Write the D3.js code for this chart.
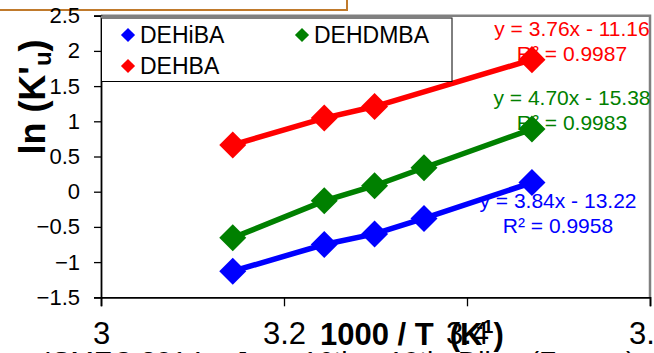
<!DOCTYPE html>
<html>
<head>
<meta charset="utf-8">
<script src="https://cdn.jsdelivr.net/npm/d3@7"></script>
<style>
  body { margin: 0; background: #fff; overflow: hidden; }
  svg { display: block; font-family: "Liberation Sans", Arial, sans-serif; }
</style>
</head>
<body>
<svg id="chart" width="654" height="353"></svg>
<script>
const xVals = [3.144, 3.244, 3.299, 3.353, 3.471];
const dehiba = [-1.13, -0.75, -0.6, -0.38, 0.13];
const dehdmba = [-0.655, -0.13, 0.085, 0.34, 0.89];
const dehba = [0.665, 1.046, 1.21, null, 1.876];
const xTicks = [3, 3.2, 3.4, 3.6];
const yTicks = [-1.5, -1, -0.5, 0, 0.5, 1, 1.5, 2, 2.5];

const series = [
  { name: "DEHiBA", values: dehiba, color: "#0000ff", eq: "y = 3.84x - 13.22", r2: "R² = 0.9958" },
  { name: "DEHDMBA", values: dehdmba, color: "#008000", eq: "y = 4.70x - 15.38", r2: "R² = 0.9983" },
  { name: "DEHBA", values: dehba, color: "#ff0000", eq: "y = 3.76x - 11.16", r2: "R² = 0.9987" }
];

const svg = d3.select("#chart");
const x = d3.scaleLinear().domain([3, 3.6]).range([101, 650]);
const y = d3.scaleLinear().domain([-1.5, 2.5]).range([297.3, 15.7]);

// box left over from the slide above the chart
svg.append("rect")
  .attr("x", -5).attr("y", -5).attr("width", 352).attr("height", 15)
  .attr("fill", "none").attr("stroke", "#c07a2c").attr("stroke-width", 2);

// plot frame, top and right in grey
svg.append("path")
  .attr("d", `M${x(3)},${y(2.5)}H${x(3.6)}V${y(-1.5)}`)
  .attr("fill", "none").attr("stroke", "#808080").attr("stroke-width", 2.5);

// axes
const yAxis = svg.append("g")
  .attr("transform", `translate(${x(3)},0)`)
  .call(d3.axisLeft(y).tickValues(yTicks).tickSize(7).tickPadding(14).tickFormat(d3.format("")));
const xAxis = svg.append("g")
  .attr("transform", `translate(0,${y(-1.5)})`)
  .call(d3.axisBottom(x).tickValues(xTicks).tickSize(9).tickPadding(16).tickFormat(d3.format("")));
[yAxis, xAxis].forEach(a => {
  a.select(".domain").attr("stroke", "#000").attr("stroke-width", 1.8);
  a.selectAll(".tick line").attr("stroke", "#000").attr("stroke-width", 1.3);
  a.selectAll("text").attr("fill", "#000").attr("font-family", "Liberation Sans, Arial, sans-serif");
});
yAxis.selectAll("text").attr("font-size", 22);
xAxis.selectAll("text").attr("font-size", 31).attr("dy", "0.71em");

// trendline labels (drawn under the series)
const eqPos = { DEHBA: [572, 36], DEHDMBA: [572, 105], DEHiBA: [558, 208] };
series.forEach(s => {
  const [cx, by] = eqPos[s.name];
  const t = svg.append("text")
    .attr("text-anchor", "middle")
    .attr("font-size", 21)
    .attr("fill", s.color);
  t.append("tspan").attr("x", cx).attr("y", by).text(s.eq);
  t.append("tspan").attr("x", cx).attr("y", by + 25).text(s.r2);
});

// series
const line = d3.line()
  .x(d => x(d.x)).y(d => y(d.v));
const marker = d3.symbol(d3.symbolSquare, 365);

series.forEach(s => {
  const pts = xVals.map((xv, i) => ({ x: xv, v: s.values[i] })).filter(d => d.v !== null);
  svg.append("path")
    .datum(pts)
    .attr("d", line)
    .attr("fill", "none")
    .attr("stroke", s.color)
    .attr("stroke-width", 5.5);
  svg.selectAll(null)
    .data(pts)
    .enter()
    .append("path")
    .attr("d", marker)
    .attr("transform", d => `translate(${x(d.x)},${y(d.v)}) rotate(45)`)
    .attr("fill", s.color);
});

// legend
const legend = svg.append("g");
legend.append("rect")
  .attr("x", 101.5).attr("y", 18).attr("width", 350.5).attr("height", 63.5)
  .attr("fill", "#fff").attr("stroke", "#000").attr("stroke-width", 1);
legend.append("line")
  .attr("x1", 101).attr("x2", 452).attr("y1", 17).attr("y2", 17)
  .attr("stroke", "#808080").attr("stroke-width", 2.5);
const legendPos = { DEHiBA: [128, 35], DEHDMBA: [302, 35], DEHBA: [128, 66] };
const legendMarker = d3.symbol(d3.symbolSquare, 100);
series.forEach(s => {
  const [lx, ly] = legendPos[s.name];
  legend.append("path")
    .attr("d", legendMarker)
    .attr("transform", `translate(${lx},${ly}) rotate(45)`)
    .attr("fill", s.color);
  legend.append("text")
    .attr("x", lx + 12).attr("y", ly + 8)
    .attr("font-size", 23)
    .attr("fill", "#000")
    .text(s.name);
});

// axis titles
const xTitle = svg.append("text")
  .attr("x", 320).attr("y", 345)
  .attr("font-size", 31).attr("font-weight", "bold").attr("fill", "#000");
xTitle.append("tspan").text("1000 / T");
xTitle.append("tspan").attr("dx", 16).text("(K");
xTitle.append("tspan").attr("font-size", 19).attr("dx", -6).attr("dy", -12).text("-1");
xTitle.append("tspan").attr("dy", 12).text(")");

const yTitle = svg.append("text")
  .attr("transform", "translate(45,97) rotate(-90)")
  .attr("text-anchor", "middle")
  .attr("font-size", 36).attr("font-weight", "bold").attr("fill", "#000");
yTitle.append("tspan").text("ln (K'");
yTitle.append("tspan").attr("font-size", 24).attr("dy", 6).text("u");
yTitle.append("tspan").attr("dy", -6).text(")");

// footer of the slide, cut by the frame
svg.append("text")
  .attr("x", 44).attr("y", 371)
  .attr("font-size", 28).attr("fill", "#000")
  .text("ISMEC 2014 – June 16th – 19th, Dijon (France)");
</script>
</body>
</html>
